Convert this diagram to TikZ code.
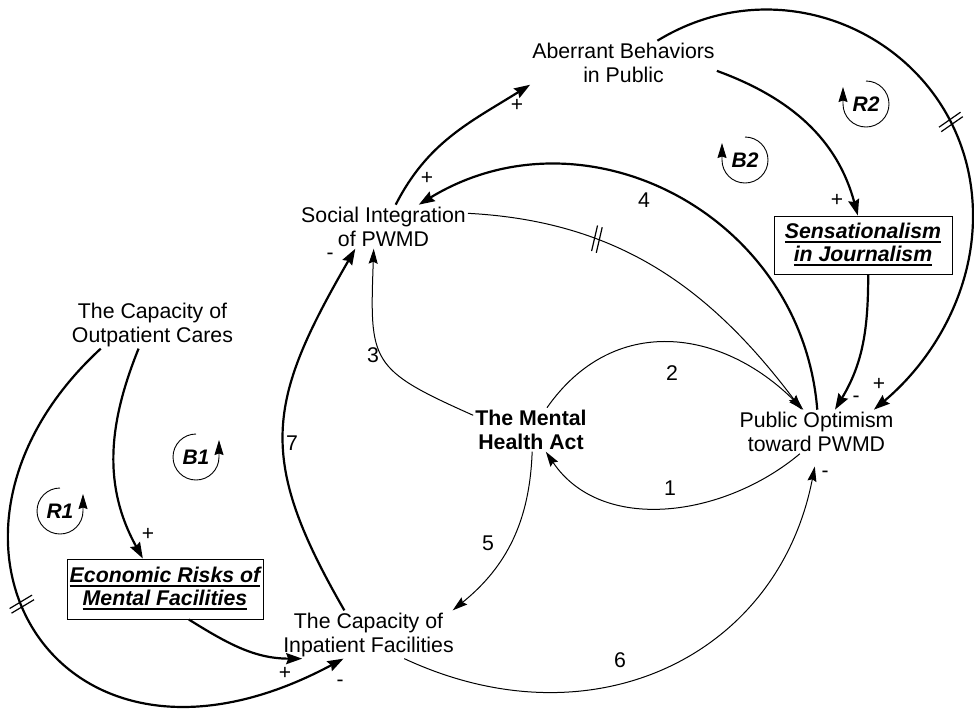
\documentclass[tikz,border=0pt]{standalone}
\usepackage{fontspec}
\setmainfont{Liberation Sans}
\usetikzlibrary{arrows.meta,decorations.markings}
\newcommand\ulx[1]{\setbox0=\hbox{#1}\rlap{\rule[-4.5pt]{\wd0}{2pt}}\box0}
\begin{document}
\begin{tikzpicture}[x=1pt,y=1pt,
  var/.style={font=\fontsize{21.3}{24}\selectfont, align=center, inner sep=2pt},
  boldvar/.style={font=\fontsize{21.3}{24}\selectfont\bfseries, align=center, inner sep=2pt},
  boxv/.style={draw, line width=1pt, font=\fontsize{21.3}{23}\selectfont\bfseries\itshape, align=center, inner sep=0pt},
  sgn/.style={font=\fontsize{21}{21}\selectfont, inner sep=0pt},
  num/.style={font=\fontsize{21.3}{24}\selectfont, inner sep=0pt},
  loopl/.style={font=\fontsize{21}{21}\selectfont\bfseries\itshape, inner sep=0pt},
  looparr/.style={line width=0.9pt, -{Stealth[length=15pt,width=9pt,inset=1.5pt]}},
  thickarr/.style={line width=2.2pt, -{Stealth[length=16pt,width=11pt,inset=2pt]}},
  thinarr/.style={line width=1pt, -{Stealth[length=15pt,width=9pt,inset=2pt]}},
  slashes/.style={postaction={decorate,decoration={markings,mark=at position #1 with {\draw[line width=1.2pt,-] (4.3,-13) -- (0.7,13) (-0.7,-13) -- (-4.3,13);}}}}
]
\useasboundingbox (0,0) rectangle (974,-710);
\fill[white] (0,0) rectangle (974,-710);

% variables
\node[var] (AB) at (623.5,-62.7) {Aberrant Behaviors\\in Public};
\node[var] (SI) at (383.5,-226.7) {Social Integration\\of PWMD};
\node[var] (PO) at (816.5,-431.7) {Public Optimism\\toward PWMD};
\node[boldvar] (MHA) at (531,-429.7) {The Mental\\Health Act};
\node[var] (OC) at (152.5,-324.5) {The Capacity of\\Outpatient Cares};
\node[var] (IF) at (368.5,-634.5) {The Capacity of\\Inpatient Facilities};
\node[boxv, minimum width=178pt, minimum height=58pt] (SJ) at (863,-245) {\ulx{Sensationalism}\\\ulx{in Journalism}};
\node[boxv, minimum width=196pt, minimum height=60pt] (ER) at (165,-589) {\ulx{Economic Risks of}\\\ulx{Mental Facilities}};
\coordinate (W2) at (973,-216);

% connectors
\draw[thickarr] (SI.61) to[out=63,in=212] (AB.south west);
\draw[thickarr, slashes=342pt] (AB.33) .. controls (795.7,43.9) and (973,-53.4) .. (W2) .. controls (973,-293) and (932.3,-360.7) .. (PO.21);
\draw[thickarr] (AB.-5) to[out=-20,in=105] (SJ.100);
\draw[thickarr] (SJ.-80) to[out=-90,in=59] (PO.50);
\draw[thickarr] (PO.88) .. controls (801.7,-214.6) and (585.4,-103.1) .. (SI.32);
\draw[thinarr, slashes=132pt] (SI.9) to[out=-3,in=127] (PO.124);
\draw[thickarr] (OC.240) to[out=248,in=119] (ER.126);
\draw[thickarr] (ER.-52) to[out=-32,in=180] (IF.200);
\draw[thickarr] (IF.135) to[out=120,in=240,looseness=1.25] (SI.218);
\draw[thinarr] (MHA.166) to[out=156,in=-92,looseness=1.5] (SI.246);
\draw[thinarr] (MHA.54) to[out=55,in=135,looseness=1.15] (PO.121);
\draw[thinarr] (PO.233) to[out=220,in=-56] (MHA.-56);
\draw[thinarr] (MHA.-87) to[out=-92,in=39] (IF.16);
\draw[thinarr, shorten >=13pt] (IF.-34) to[out=-25,in=-101,looseness=1.15] (PO.-88);
\draw[thickarr, slashes=285pt] (OC.205) .. controls (-104,-537) and (55,-813) .. (IF.224);

% polarity signs
\node[sgn] (p1) at (517,-105) {+};
\node[sgn] (p2) at (427,-178) {+};
\node[sgn] (p3) at (837,-200) {+};
\node[sgn] (p4) at (856,-399) {-};
\node[sgn] (p5) at (879,-384) {+};
\node[sgn] (p6) at (148,-534) {+};
\node[sgn] (p7) at (285,-673) {+};
\node[sgn] (p8) at (340,-683) {-};
\node[sgn] (p9) at (330,-256) {-};
\node[sgn] (p10) at (825,-474) {-};

% link numbers
\node[num] (n1) at (670,-488) {1};
\node[num] (n2) at (672,-373) {2};
\node[num] (n3) at (373,-355) {3};
\node[num] (n4) at (644,-200) {4};
\node[num] (n5) at (488,-543) {5};
\node[num] (n6) at (620,-660) {6};
\node[num] (n7) at (292,-443) {7};

% loop markers
\node[loopl] (R1) at (60,-511) {R1};
\draw[looparr] (R1.center) ++(0,23) arc[start angle=90,end angle=360,radius=23] -- ++(0,17);
\node[loopl] (B1) at (196,-457) {B1};
\draw[looparr] (B1.center) ++(0,23) arc[start angle=90,end angle=360,radius=23] -- ++(0,17);
\node[loopl] (B2) at (745,-160) {B2};
\draw[looparr] (B2.center) ++(0,23) arc[start angle=90,end angle=-180,radius=23] -- ++(0,17);
\node[loopl] (R2) at (866,-104) {R2};
\draw[looparr] (R2.center) ++(0,23) arc[start angle=90,end angle=-180,radius=23] -- ++(0,17);
\end{tikzpicture}
\end{document}
